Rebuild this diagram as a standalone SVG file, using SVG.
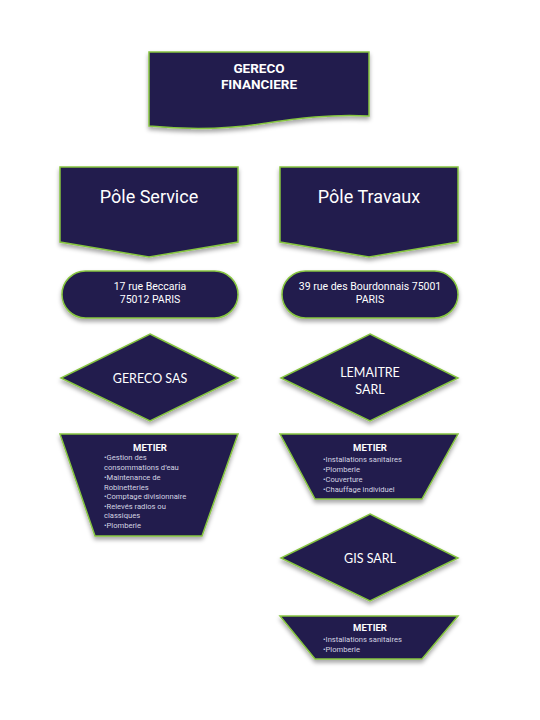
<svg xmlns="http://www.w3.org/2000/svg" width="540" height="720" viewBox="0 0 540 720">
<defs>
<filter id="sh" x="-10%" y="-10%" width="120%" height="130%">
<feDropShadow dx="0" dy="3" stdDeviation="2" flood-color="#000" flood-opacity="0.35"/>
</filter>
</defs>
<style>
.s{fill:#221f4d;stroke:#86c440;stroke-width:1.5;filter:url(#sh)}
.t{fill:#fff;font-family:Roboto,"DejaVu Sans",sans-serif;text-anchor:middle;dominant-baseline:central}
.c{fill:#fff;font-family:Lato,"Open Sans",sans-serif;text-anchor:middle;dominant-baseline:central;font-size:12.5px}
.m{fill:#fff;font-family:Roboto,sans-serif;font-weight:bold;text-anchor:middle;dominant-baseline:central;font-size:9.5px}
.l{fill:#d4d4e2;font-family:Roboto,sans-serif;dominant-baseline:central;font-size:7.6px}
</style>
<rect width="540" height="720" fill="#fff"/>
<g id="gereco-financiere">
<path class="s" d="M149,52 H369 V116 C330,114 300,118 260,124 C220,130 180,129 149,126 Z"/>
<text class="t" x="259" y="68" font-size="13.5" font-weight="bold">GERECO</text>
<text class="t" x="259" y="84" font-size="13.5" font-weight="bold">FINANCIERE</text>
</g>
<g id="pole-service">
<path class="s" d="M60,167 H238 V242 L149,257 L60,242 Z"/>
<text class="t" x="149" y="196" font-size="18">Pôle Service</text>
</g>
<g id="pole-travaux">
<path class="s" d="M280,167 H458 V242 L369,257 L280,242 Z"/>
<text class="t" x="369" y="196" font-size="18">Pôle Travaux</text>
</g>
<g id="adresse-service">
<rect class="s" x="62" y="271" width="176" height="47" rx="23.5"/>
<text class="t" x="150" y="286" font-size="10.5">17 rue Beccaria</text>
<text class="t" x="150" y="299" font-size="10.5">75012 PARIS</text>
</g>
<g id="adresse-travaux">
<rect class="s" x="282" y="271" width="176" height="47" rx="23.5"/>
<text class="t" x="370" y="286" font-size="10.5">39 rue des Bourdonnais 75001</text>
<text class="t" x="370" y="299" font-size="10.5">PARIS</text>
</g>
<g id="gereco-sas">
<path class="s" d="M150,334 L238,378 L150,421 L61,378 Z"/>
<text class="c" x="150" y="378">GERECO SAS</text>
</g>
<g id="lemaitre-sarl">
<path class="s" d="M370,334 L458,378 L370,421 L281,378 Z"/>
<text class="c" x="370" y="372">LEMAITRE</text>
<text class="c" x="370" y="389">SARL</text>
</g>
<g id="gis-sarl">
<path class="s" d="M370,514 L458,558 L370,601 L281,558 Z"/>
<text class="c" x="370" y="558">GIS SARL</text>
</g>
<g id="metier-service">
<path class="s" d="M60,434 H238 L202,536 H95 Z"/>
<text class="m" x="150" y="447">METIER</text>
<text class="l" x="104" y="457">•Gestion des</text>
<text class="l" x="104" y="467">consommations d’eau</text>
<text class="l" x="104" y="477">•Maintenance de</text>
<text class="l" x="104" y="487">Robinetteries</text>
<text class="l" x="104" y="496">•Comptage divisionnaire</text>
<text class="l" x="104" y="506">•Relevés radios ou</text>
<text class="l" x="104" y="515">classiques</text>
<text class="l" x="104" y="525">•Plomberie</text>
</g>
<g id="metier-lemaitre">
<path class="s" d="M280,434 H458 L422,499 H315 Z"/>
<text class="m" x="370" y="447">METIER</text>
<text class="l" x="323" y="459">•Installations sanitaires</text>
<text class="l" x="323" y="469">•Plomberie</text>
<text class="l" x="323" y="479">•Couverture</text>
<text class="l" x="323" y="489">•Chauffage individuel</text>
</g>
<g id="metier-gis">
<path class="s" d="M280,616 H458 L422,659 H315 Z"/>
<text class="m" x="370" y="627">METIER</text>
<text class="l" x="323" y="639">•Installations sanitaires</text>
<text class="l" x="323" y="649">•Plomberie</text>
</g>
<g id="connectors"></g>
</svg>
